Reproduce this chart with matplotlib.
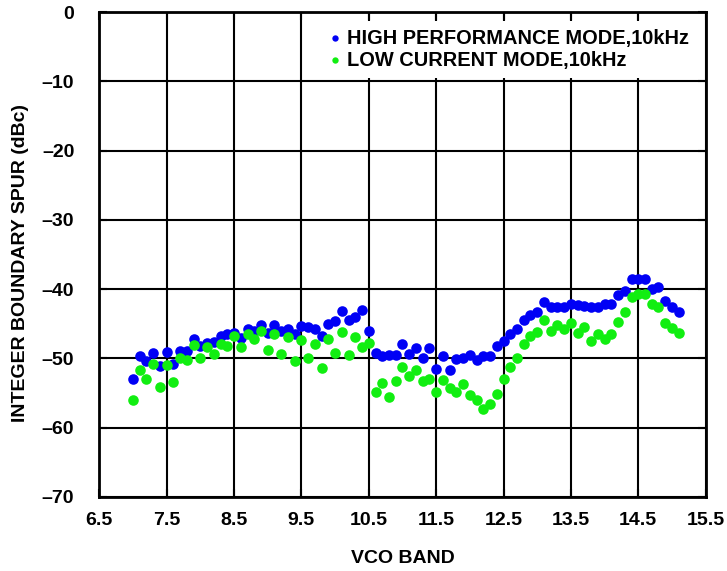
import matplotlib
matplotlib.use("Agg")
import matplotlib.pyplot as plt
from matplotlib import font_manager

vco_band = [7.0, 7.1, 7.2, 7.3, 7.4, 7.5, 7.6, 7.7, 7.8, 7.9,
            8.0, 8.1, 8.2, 8.3, 8.4, 8.5, 8.6, 8.7, 8.8, 8.9,
            9.0, 9.1, 9.2, 9.3, 9.4, 9.5, 9.6, 9.7, 9.8, 9.9,
            10.0, 10.1, 10.2, 10.3, 10.4, 10.5, 10.6, 10.7, 10.8, 10.9,
            11.0, 11.1, 11.2, 11.3, 11.4, 11.5, 11.6, 11.7, 11.8, 11.9,
            12.0, 12.1, 12.2, 12.3, 12.4, 12.5, 12.6, 12.7, 12.8, 12.9,
            13.0, 13.1, 13.2, 13.3, 13.4, 13.5, 13.6, 13.7, 13.8, 13.9,
            14.0, 14.1, 14.2, 14.3, 14.4, 14.5, 14.6, 14.7, 14.8, 14.9,
            15.0, 15.1]

high_perf = [-52.9, -49.7, -50.4, -49.2, -51.1, -49.0, -50.8, -48.9, -48.9, -47.2,
             -48.2, -47.7, -47.6, -46.7, -46.4, -46.3, -47.0, -45.7, -46.1, -45.1,
             -46.3, -45.2, -46.1, -45.7, -46.5, -45.3, -45.5, -45.8, -46.8, -45.0,
             -44.6, -43.2, -44.5, -44.0, -43.0, -46.0, -49.2, -49.6, -49.5, -49.5,
             -47.9, -49.4, -48.5, -49.9, -48.5, -51.5, -49.7, -51.6, -50.1, -50.0,
             -49.5, -50.2, -49.6, -49.6, -48.2, -47.5, -46.4, -45.8, -44.5, -43.7,
             -43.3, -41.9, -42.5, -42.6, -42.5, -42.2, -42.3, -42.4, -42.5, -42.5,
             -42.1, -42.1, -40.8, -40.2, -38.5, -38.5, -38.5, -39.9, -39.7, -41.7,
             -42.6, -43.3]

low_current = [-56.0, -51.6, -53.0, -50.8, -54.1, -50.9, -53.4, -50.0, -50.2, -48.0,
               -50.0, -48.4, -49.4, -47.9, -48.2, -46.8, -48.3, -46.4, -47.2, -46.1,
               -48.8, -46.4, -49.4, -46.9, -50.4, -47.3, -49.9, -47.9, -51.4, -47.2,
               -49.2, -46.2, -49.5, -46.9, -48.4, -47.8, -54.9, -53.5, -55.5, -53.2,
               -51.2, -52.5, -51.6, -53.2, -53.0, -54.9, -53.1, -54.3, -54.8, -53.7,
               -55.3, -56.0, -57.3, -56.5, -55.1, -53.0, -51.2, -49.9, -47.9, -46.8,
               -46.2, -44.4, -46.0, -45.2, -45.8, -44.9, -46.3, -45.5, -47.5, -46.5,
               -47.2, -46.4, -44.8, -43.3, -41.1, -40.7, -40.7, -42.1, -42.5, -44.9,
               -45.6, -46.3]

x_ticks = [6.5, 7.5, 8.5, 9.5, 10.5, 11.5, 12.5, 13.5, 14.5, 15.5]
y_ticks = [0, -10, -20, -30, -40, -50, -60, -70]
series_labels = ["HIGH PERFORMANCE MODE,10kHz", "LOW CURRENT MODE,10kHz"]

names = {f.name for f in font_manager.fontManager.ttflist}
narrow = "Liberation Sans Narrow" if "Liberation Sans Narrow" in names else "Liberation Sans"
plt.rcParams["font.family"] = ["Liberation Sans", "DejaVu Sans"]
plt.rcParams["font.weight"] = "bold"

fig = plt.figure(figsize=(7.27, 5.71), dpi=100)
ax = fig.add_axes([0.1366, 0.1296, 0.834, 0.849])

ax.scatter(vco_band, high_perf, s=58, color="#0000F5", label=series_labels[0], zorder=3, linewidths=0)
ax.scatter(vco_band, low_current, s=58, color="#11EE11", label=series_labels[1], zorder=3, linewidths=0)

ax.set_xlim(6.5, 15.5)
ax.set_ylim(-70, 0)
ax.set_xticks(x_ticks)
ax.set_yticks(y_ticks)
ax.set_xticklabels([f"{v:.1f}" for v in x_ticks], family=[narrow, "DejaVu Sans"], fontsize=14, fontweight="bold")
ax.set_yticklabels(["0" if v == 0 else "\u2013" + str(abs(v)) for v in y_ticks], fontsize=14, fontweight="bold")
ax.tick_params(direction="in", length=6, width=1.5, top=True, right=True)
ax.tick_params(axis="x", pad=11)
ax.tick_params(axis="y", pad=18)
ax.grid(True, color="black", linewidth=1.5)
for sp in ax.spines.values():
    sp.set_linewidth(2)

ax.set_xlabel("VCO BAND", fontsize=14, fontweight="bold", labelpad=15)
ax.set_ylabel("INTEGER BOUNDARY SPUR (dBc)", fontsize=14, fontweight="bold", labelpad=9)
ax.yaxis.label.set_y(0.483)

leg = ax.legend(loc="upper right", frameon=True, fancybox=False, edgecolor="none",
                facecolor="white", framealpha=1, handletextpad=0.0, markerscale=0.6,
                borderaxespad=0.42, labelspacing=0.15, handlelength=1.2,
                prop={"size": 14.4, "weight": "bold"})
leg.set_zorder(5)

fig.savefig("out.png", dpi=100)
